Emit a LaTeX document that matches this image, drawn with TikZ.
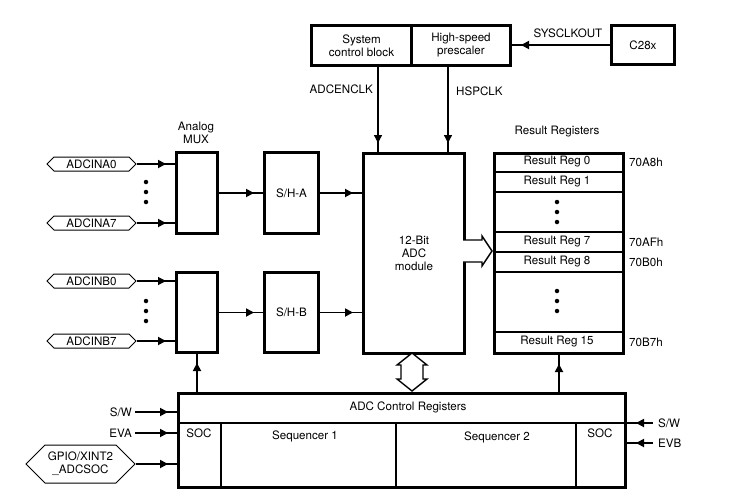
\documentclass[tikz,border=0pt]{standalone}
\usepackage{fontspec}
\setmainfont{TeX Gyre Heros}
\usetikzlibrary{arrows.meta,decorations.markings,shapes.symbols,calc}
\begin{document}
\begin{tikzpicture}[x=1pt,y=-1pt,
  font=\fontsize{11.6}{13}\selectfont,
  box/.style={draw, line width=3pt, inner sep=0pt, anchor=north west, align=center},
  conn/.style={line width=1.8pt, postaction={decorate}, decoration={markings, mark=at position -9pt with {\arrow{Triangle[length=8pt,width=8pt]}}}},
  hexa/.style={draw, line width=1pt, shape=signal, signal to=west and east, signal pointer angle=90, inner sep=0pt, minimum height=14pt, minimum width=89pt, align=center},
  lbl/.style={inner sep=0pt, align=center},
  dot/.style={circle, fill, inner sep=0pt, minimum size=4.5pt},
  thin/.style={line width=1.5pt},
  hollow/.style={line width=1.4pt, fill=white, line join=miter}
]
\useasboundingbox (0,0) rectangle (734,501);

% top blocks
\node[box, minimum width=100pt, minimum height=40pt] (sys) at (310,24) {System\\control block};
\node[box, minimum width=99pt, minimum height=40pt] (hsp) at (410,24) {High-speed\\prescaler};
\node[box, minimum width=63pt, minimum height=39pt] (c28) at (610,24) {C28x};

% main blocks
\node[box, minimum width=101pt, minimum height=200pt] (adc) at (362,152) {12-Bit\\ADC\\module};
\node[box, minimum width=129pt, minimum height=200pt] (res) at (493,152) {};
\node[box, minimum width=41pt, minimum height=81pt] (muxA) at (175,151) {};
\node[box, minimum width=54pt, minimum height=81pt] (shA) at (263,151) {S/H-A};
\node[box, minimum width=41pt, minimum height=80pt] (muxB) at (175,271) {};
\node[box, minimum width=54pt, minimum height=80pt] (shB) at (263,271) {S/H-B};
\node[box, minimum width=447pt, minimum height=94pt] (ctrl) at (177,392) {};

% control register internals
\draw[line width=2.2pt] ($(ctrl.north west)+(0,31)$) -- ($(ctrl.north east)+(0,31)$);
\foreach \xx in {221,396,576}
  \draw[thin] (\xx,423) -- (\xx,486);
\node[lbl] (ctrlt) at (408,407) {ADC Control Registers};
\node[lbl] (socL) at (199,433) {SOC};
\node[lbl] (seq1) at (305,436) {Sequencer 1};
\node[lbl] (seq2) at (497,437) {Sequencer 2};
\node[lbl] (socR) at (600,433) {SOC};

% result registers
\foreach \yy in {20,40,80,100,120,180}
  \draw[thin] ($(res.north west)+(0,\yy)$) -- ($(res.north east)+(0,\yy)$);
\node[lbl] (rr0) at (557,162) {Result Reg 0};
\node[lbl] (rr1) at (557,182) {Result Reg 1};
\node[lbl] (rr7) at (557,242) {Result Reg 7};
\node[lbl] (rr8) at (557,262) {Result Reg 8};
\node[lbl] (rr15) at (557,342) {Result Reg 15};
\foreach \yy in {202,212,222,291,301,311}
  \node[dot] at (557,\yy) {};
\node[lbl, anchor=west] (ad0) at (629,162) {70A8h};
\node[lbl, anchor=west] (ad7) at (629,242) {70AFh};
\node[lbl, anchor=west] (ad8) at (629,262) {70B0h};
\node[lbl, anchor=west] (ad15) at (629,342) {70B7h};
\node[lbl] (rrt) at (557,132) {Result Registers};

% labels
\node[lbl] (muxt) at (196,133) {Analog\\MUX};
\node[lbl, anchor=east] (adcen) at (373,89) {ADCENCLK};
\node[lbl, anchor=west] (hspclk) at (456,91) {HSPCLK};
\node[lbl] (sysclk) at (568,33) {SYSCLKOUT};

% inputs
\node[hexa] (a0) at (91.5,164) {ADCINA0};
\node[hexa] (a7) at (91.5,223) {ADCINA7};
\node[hexa] (b0) at (91.5,281) {ADCINB0};
\node[hexa] (b7) at (91.5,341) {ADCINB7};
\node[hexa, minimum height=38pt, minimum width=109pt] (gpio) at (80.5,464) {GPIO/XINT2\\\_ADCSOC};
\foreach \yy in {182,192,202,301,311,321}
  \node[dot] at (146,\yy) {};

% connectors
\draw[conn] (a0.east) -- (a0.east -| muxA.west);
\draw[conn] (a7.east) -- (a7.east -| muxA.west);
\draw[conn, line width=1.1pt] (b0.east) -- (b0.east -| muxB.west);
\draw[conn] (b7.east) -- (b7.east -| muxB.west);
\draw[conn] (muxA.east) -- (shA.west);
\draw[conn] (muxB.east) -- (shB.west);
\draw[conn] (shA.east) -- (shA.east -| adc.west);
\draw[conn] (shB.east) -- (shB.east -| adc.west);
\draw[conn] (ctrl.north -| muxB.south) -- (muxB.south);
\draw[conn] (ctrl.north -| res.south) -- (res.south);
\coordinate (ck1) at (378,64);
\coordinate (ck2) at (448,64);
\draw[conn, line width=1.3pt] (ck1) -- (ck1 |- adc.north);
\draw[conn, line width=1.3pt] (ck2) -- (ck2 |- adc.north);
\draw[conn] (c28.west) -- (c28.west -| hsp.east);

\coordinate (swl) at (135,412);
\coordinate (eva) at (135,433);
\draw[conn] (swl) -- (swl -| ctrl.west);
\draw[conn] (eva) -- (eva -| ctrl.west);
\draw[conn] (gpio.east) -- (gpio.east -| ctrl.west);
\node[lbl, anchor=east] (swlt) at (132,412) {S/W};
\node[lbl, anchor=east] (evat) at (132,433) {EVA};
\coordinate (swr) at (653,423);
\coordinate (evb) at (653,443);
\draw[conn] (swr) -- (swr -| ctrl.east);
\draw[conn] (evb) -- (evb -| ctrl.east);
\node[lbl, anchor=west] (swrt) at (658,423) {S/W};
\node[lbl, anchor=west] (evbt) at (658,443) {EVB};

% hollow bus arrows
\draw[hollow] (463,240) -- (482,240) -- (482,236) -- (492,251) -- (482,266) -- (482,262) -- (463,262);
\draw[hollow] (412,353) -- (427,365) -- (423,365) -- (423,379) -- (427,379) -- (412,391) -- (397,379) -- (401,379) -- (401,365) -- (397,365) -- cycle;
\end{tikzpicture}
\end{document}
